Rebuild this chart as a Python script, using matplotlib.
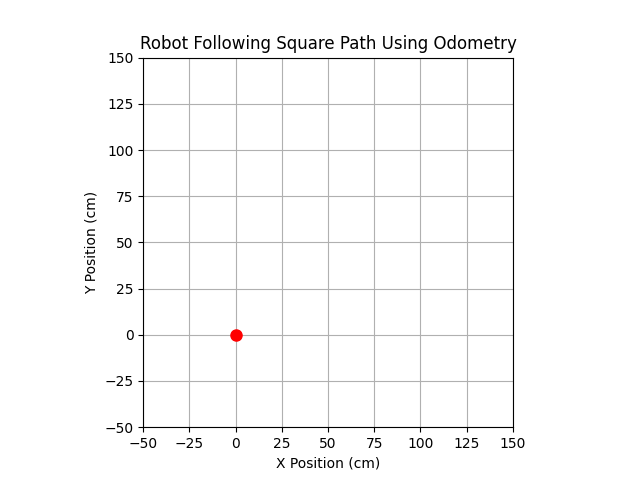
import matplotlib
matplotlib.use("Agg")
import matplotlib.pyplot as plt

# robot position at this frame (cm)
robot_x = [0]
robot_y = [0]

# path traced so far (empty at the first frame)
path_x = []
path_y = []

x_limits = (-50, 150)
y_limits = (-50, 150)

fig, ax = plt.subplots(figsize=(6.4, 4.8), dpi=100)
ax.plot(path_x, path_y, "b-")
ax.plot(robot_x, robot_y, "ro", markersize=8)
ax.set_xlim(*x_limits)
ax.set_ylim(*y_limits)
ax.set_aspect("equal")
ax.grid(True)
ax.set_title("Robot Following Square Path Using Odometry")
ax.set_xlabel("X Position (cm)")
ax.set_ylabel("Y Position (cm)")

fig.savefig("out.png")
